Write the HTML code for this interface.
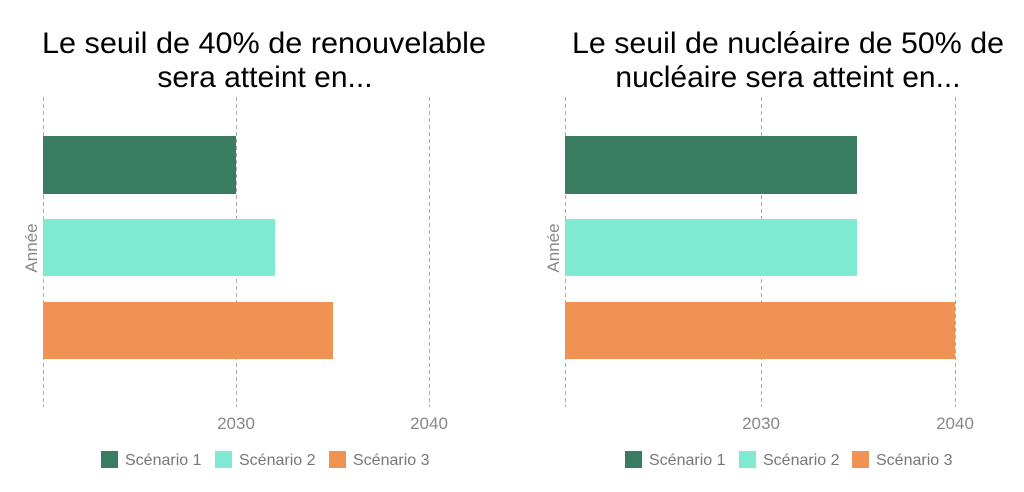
<!DOCTYPE html>
<html><head><meta charset="utf-8"><style>body{margin:0;background:#fff}svg{display:block}</style></head>
<body>
<svg width="1024" height="492" viewBox="0 0 1024 492" font-family="Liberation Sans, sans-serif">
<rect width="1024" height="492" fill="#fff"/>
<g font-size="30" fill="#000" text-anchor="middle">
<text x="264" y="53" textLength="444" lengthAdjust="spacingAndGlyphs">Le seuil de 40% de renouvelable</text>
<text x="265" y="87">sera atteint en...</text>
<text x="788" y="53" textLength="432" lengthAdjust="spacingAndGlyphs">Le seuil de nucléaire de 50% de</text>
<text x="788" y="87">nucléaire sera atteint en...</text>
</g>
<g stroke="#aaa" stroke-width="1" stroke-dasharray="4,3">
<line x1="43.5" y1="97" x2="43.5" y2="407"/><line x1="236.5" y1="97" x2="236.5" y2="407"/><line x1="429.5" y1="97" x2="429.5" y2="407"/>
<line x1="565.5" y1="97" x2="565.5" y2="407"/><line x1="761.5" y1="97" x2="761.5" y2="407"/><line x1="955.5" y1="97" x2="955.5" y2="407"/>
</g>
<rect x="43" y="136" width="193" height="58" fill="#3a7c62"/>
<rect x="43" y="219" width="232" height="57" fill="#7eead2"/>
<rect x="43" y="302" width="290" height="57" fill="#f09254"/>
<rect x="565" y="136" width="292" height="58" fill="#3a7c62"/>
<rect x="565" y="219" width="292" height="57" fill="#7eead2"/>
<rect x="565" y="302" width="390" height="57" fill="#f09254"/>
<g font-size="17" fill="#888" text-anchor="middle">
<text x="236" y="429">2030</text><text x="429" y="429">2040</text>
<text x="761" y="429">2030</text><text x="955" y="429">2040</text>
<text transform="translate(37,248) rotate(-90)">Année</text>
<text transform="translate(559,248) rotate(-90)">Année</text>
</g>
<g font-size="16" fill="#777">
<rect x="101" y="451" width="17" height="17" fill="#3a7c62"/><text x="125" y="465">Scénario 1</text>
<rect x="215" y="451" width="17" height="17" fill="#7eead2"/><text x="239" y="465">Scénario 2</text>
<rect x="329" y="451" width="17" height="17" fill="#f09254"/><text x="353" y="465">Scénario 3</text>
<rect x="625" y="451" width="17" height="17" fill="#3a7c62"/><text x="649" y="465">Scénario 1</text>
<rect x="739" y="451" width="17" height="17" fill="#7eead2"/><text x="763" y="465">Scénario 2</text>
<rect x="852" y="451" width="17" height="17" fill="#f09254"/><text x="876" y="465">Scénario 3</text>
</g>
</svg>
</body></html>
